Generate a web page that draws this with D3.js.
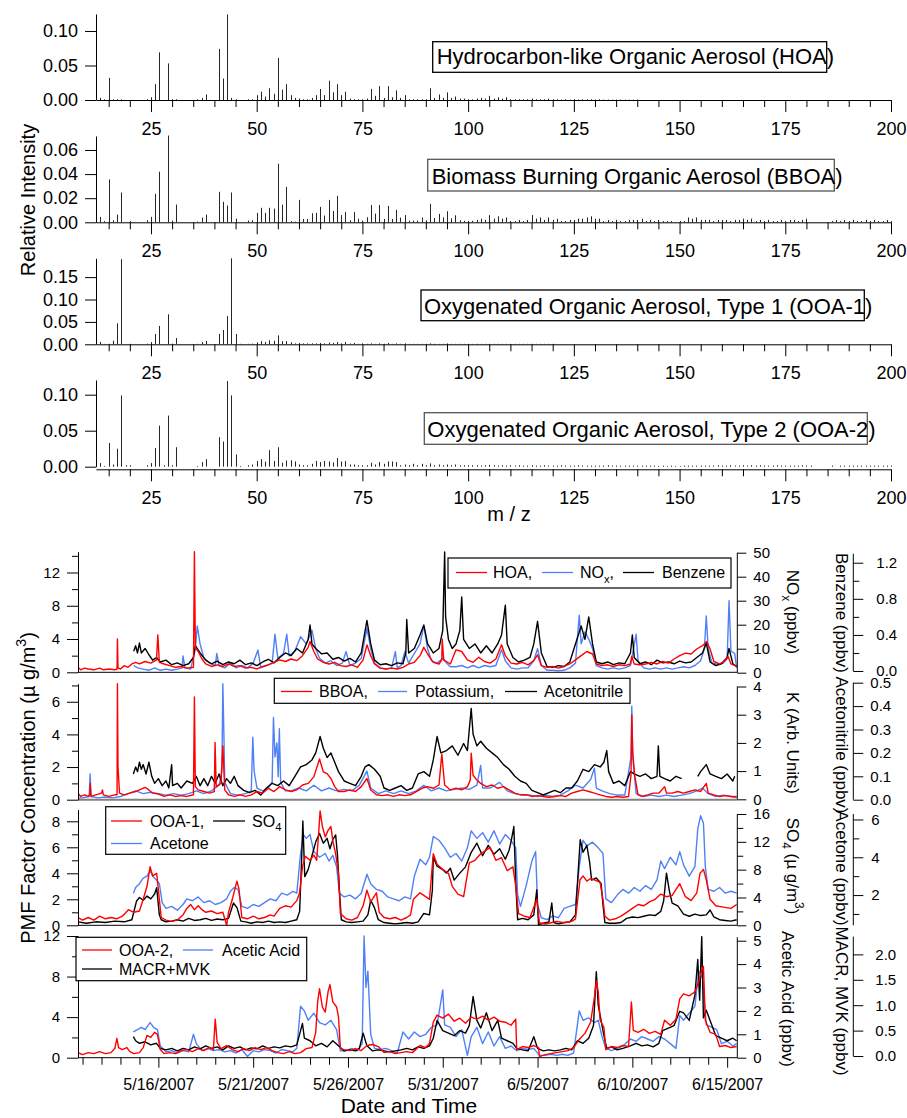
<!DOCTYPE html>
<html>
<head>
<meta charset="utf-8">
<script src="https://cdn.jsdelivr.net/npm/d3@7"></script>
<style>
  body { margin: 0; background: #fff; }
  svg { display: block; }
</style>
</head>
<body>
<svg id="chart" width="907" height="1118"></svg>
<script>
// ---------- mass spectra (relative intensity), m/z 12..100 then tails
const mzStart = 12;
const hoaSpectrum = [
  0.012,0.003,0.001,0.032,0.001,0.001,0.001,0,0,0,
  0,0,0.001,0.004,0.023,0.069,0,0.053,0.001,0.001,
  0,0,0,0,0.001,0.003,0.008,0,0,0.074,
  0.031,0.124,0.003,0.001,0,0,0.001,0.001,0.007,0.012,
  0.005,0.017,0.009,0.061,0.015,0.023,0.007,0.003,0.002,0.001,
  0.001,0.003,0.007,0.016,0.007,0.028,0.011,0.023,0.007,0.012,
  0.002,0.001,0.001,0.001,0.002,0.016,0.006,0.020,0.003,0.020,
  0.004,0.014,0.003,0.007,0.001,0.001,0.001,0.001,0.001,0.017,
  0.003,0.008,0.003,0.011,0.003,0.005,0.002,0.002,0.001];
const hoaTail = [
  0.001,0.002,0.003,0.002,0.006,0.002,0.004,0.002,0.004,0.001,
  0.001,0.001,0.001,0.001,0.002,0.001,0.001,0.001,0.002,0.001,
  0.001,0.0005,0.001,0.0005,0.001,0.0005,0.001,0.001,0.001,0.0005,
  0.001,0.0005,0.0005,0.0005,0.0005,0.0005,0.0005,0.0005,0.0005,0.0005];
const bboaSpectrum = [
  0.013,0.0045,0.001,0.0355,0.0017,0.0064,0.0247,0,0.001,0,
  0,0,0.0017,0.0045,0.0236,0.042,0,0.072,0.0014,0.0147,
  0,0,0,0,0.0005,0.0039,0.0064,0,0,0.0253,
  0.017,0.0139,0.0247,0.003,0,0,0.0014,0.0017,0.0078,0.012,
  0.0078,0.012,0.0114,0.0486,0.0147,0.0294,0.001,0.0005,0.0186,0.0028,
  0.0028,0.0075,0.0078,0.0128,0.0056,0.0186,0.0094,0.022,0.006,0.0086,
  0.0017,0.0086,0.003,0.0014,0.0042,0.0144,0.0072,0.0144,0.0028,0.0136,
  0.0028,0.0103,0.0039,0.006,0.0014,0.0014,0.0014,0.004,0.0017,0.0153,
  0.0036,0.007,0.004,0.0092,0.0033,0.0058,0.0017,0.0012,0.0012];
const bboaTail = [
  0.0012,0.002,0.003,0.002,0.006,0.003,0.005,0.003,0.004,0.001,
  0.001,0.002,0.001,0.002,0.006,0.003,0.004,0.002,0.004,0.002,
  0.003,0.001,0.001,0.002,0.002,0.003,0.003,0.004,0.005,0.003,
  0.003,0.001,0.002,0.001,0.002,0.001,0.001,0.002,0.002,0.002,
  0.003,0.001,0.002,0.001,0.002,0.001,0.001,0.001,0,0.001,
  0.001,0.004,0.003,0.004,0.002,0.002,0.002,0.001,0.002,0.002,
  0.002,0.001,0.002,0.002,0.003,0.002,0.003,0.001,0.002,0.001,
  0.002,0.001,0.001,0.002,0.001,0.002,0.002,0.001,0.002,0.003,
  0,0,0,0,0,0.001,0.002,0.001,0.002,0.001,
  0.002,0.001,0.001,0.002,0.001,0.002,0.001,0.001,0.002,0.001];
const ooa1Spectrum = [
  0.018,0.005,0.001,0.001,0.008,0.047,0.19,0,0.001,0,
  0,0,0.0015,0.005,0.023,0.041,0,0.067,0.0015,0.014,
  0,0,0,0,0.001,0.005,0.0075,0,0,0.023,
  0.032,0.063,0.192,0.023,0.001,0,0.001,0.0015,0.0045,0.007,
  0.005,0.009,0.008,0.020,0.007,0.007,0.0045,0.002,0.003,0.002,
  0.002,0.002,0.002,0.003,0.002,0.004,0.003,0.005,0.002,0.005,
  0.002,0.003,0.001,0.002,0.001,0.002,0.001,0.002,0.001,0.003,
  0.001,0.002,0.001,0.002,0.001,0.001,0.001,0.001,0.001,0.002,
  0.001,0.001,0.001,0.002,0.001,0.001,0.001,0.001,0.001];
const ooa1Tail = [
  0.001,0.001,0.001,0.001,0.001,0.001,0.001,0.001,0.001,0.001,
  0.001,0.001,0.001,0.001,0.001,0.001,0.001,0.001,0.001,0.001];
const ooa2Spectrum = [
  0.008,0.005,0.001,0.033,0.003,0.025,0.099,0.002,0.002,0,
  0,0,0.002,0.005,0.026,0.057,0.002,0.071,0.002,0.027,
  0,0,0,0,0.001,0.0064,0.0105,0,0,0.041,
  0.035,0.119,0.099,0.017,0.001,0,0.002,0.003,0.008,0.0105,
  0.007,0.023,0.008,0.027,0.0055,0.0087,0.009,0.0073,0.003,0.002,
  0.002,0.004,0.008,0.0064,0.008,0.0073,0.006,0.012,0.0073,0.008,
  0.003,0.003,0.002,0.002,0.002,0.0055,0.003,0.0064,0.004,0.0073,
  0.0073,0.0064,0.002,0.003,0.002,0.004,0.002,0.004,0.002,0.0045,
  0.002,0.003,0.002,0.003,0.002,0.003,0.002,0.002,0.002];
const ooa2Tail = [
  0.002,0.002,0.0015,0.002,0.0025,0.002,0.0015,0.002,0.0015,0.002,
  0.0015,0.002,0.0015,0.0015,0.002,0.0015,0.0015,0.002,0.0015,0.0015,
  0.0015,0.002,0.0015,0.0015,0.0015,0.002,0.0015,0.0015,0.0015,0.0015,
  0.0015,0.0015,0.002,0.0015,0.0015,0.0015,0.0015,0.0015,0.0015,0.0015,
  0.0015,0.0015,0.0015,0.0015,0.001,0.0015,0.001,0.0015,0.001,0.001,
  0.0015,0.0015,0.0015,0.0015,0.0015,0.0015,0.0015,0.0015,0.002,0.0015,
  0.0015,0.002,0.0015,0.0015,0.002,0.0015,0.002,0.0015,0.002,0.0015,
  0.0015,0.0015,0.002,0.0015,0.0015,0.0015,0.0015,0.0015,0.002,0.0015,
  0.0015,0,0,0,0,0.0015,0,0.0015,0.0015,0.0015,
  0.0015,0.0015,0.0015,0.0015,0.0015,0.0015,0.0015,0.0015,0.0015,0.0015];

const mzMajorTicks = [25, 50, 75, 100, 125, 150, 175, 200];
const mzMinorTicks = [15, 20, 30, 35, 40, 45, 55, 60, 65, 70, 80, 85, 90, 95, 105, 110, 115, 120,
  130, 135, 140, 145, 155, 160, 165, 170, 180, 185, 190, 195];

// ---------- time series, [day of May 2007 (June 1 = 32), value]
const hoaConc = [[11.76,0.6],[11.9,0.3],[12.1,0.5],[12.3,0.4],[12.6,0.3],[12.9,0.5],[13.1,0.3],[13.4,0.4],[13.7,0.3],[13.82,0.4],[13.84,4.0],[13.87,0.5],[14.0,0.4],[14.2,0.8],[14.4,0.6],[14.6,1.0],[14.8,1.2],[15.0,1.0],[15.3,1.3],[15.6,1.1],[15.9,1.5],[15.97,4.5],[16.05,1.2],[16.3,1.0],[16.6,0.8],[16.9,0.6],[17.2,0.7],[17.5,0.5],[17.85,0.6],[17.9,14.5],[17.95,3.0],[18.1,2.5],[18.3,1.6],[18.5,1.0],[18.8,0.7],[19.1,0.9],[19.4,0.7],[19.7,1.0],[20.0,0.7],[20.3,0.8],[20.6,0.5],[20.9,0.6],[21.2,0.4],[21.5,0.7],[21.8,0.9],[22.1,1.2],[22.4,1.5],[22.7,1.3],[23.0,1.6],[23.3,1.4],[23.6,2.0],[23.9,3.0],[24.0,3.7],[24.2,2.5],[24.4,1.6],[24.7,1.2],[25.0,1.0],[25.3,1.2],[25.6,0.8],[25.9,0.7],[26.2,0.9],[26.5,0.6],[26.8,1.5],[27.0,3.3],[27.2,2.0],[27.4,1.0],[27.7,0.5],[28.0,0.4],[28.3,0.5],[28.6,0.4],[28.9,0.6],[29.2,1.0],[29.5,1.2],[29.8,2.0],[30.0,3.0],[30.2,2.2],[30.5,1.2],[30.8,1.0],[30.95,1.5],[30.97,4.0],[31.05,1.5],[31.4,1.0],[31.7,2.7],[32.0,2.5],[32.3,1.5],[32.6,1.2],[32.9,1.8],[33.2,1.3],[33.5,1.1],[33.8,1.6],[34.1,3.3],[34.3,2.0],[34.6,1.1],[34.9,1.0],[35.2,1.2],[35.5,0.9],[35.8,1.4],[36.0,2.1],[36.2,0.8],[36.5,0.6],[36.8,0.7],[37.1,0.5],[37.4,0.7],[37.7,1.0],[38.0,1.5],[38.3,2.0],[38.6,2.5],[38.9,2.2],[39.1,1.0],[39.4,0.8],[39.7,0.9],[40.0,0.7],[40.3,0.9],[40.6,0.8],[40.9,1.0],[40.97,1.9],[41.1,1.0],[41.4,0.9],[41.7,1.0],[42.0,1.2],[42.3,1.0],[42.6,1.3],[42.9,1.1],[43.2,1.6],[43.5,2.0],[43.8,2.3],[44.1,2.2],[44.4,2.8],[44.7,3.2],[44.92,3.7],[45.1,2.8],[45.3,1.3],[45.6,1.0],[45.9,1.4],[46.05,1.9],[46.2,1.0],[46.5,0.7]];
const noxPpbv = [[14.7,3],[14.9,2],[15.2,1.5],[15.5,1],[15.8,2],[16.1,1],[16.4,1.5],[16.7,1],[17.0,1.5],[17.25,2],[17.3,7],[17.4,2],[17.7,1.5],[17.95,10],[18.05,19.5],[18.2,12],[18.4,6],[18.7,4],[19.0,3],[19.08,8],[19.2,3],[19.5,2],[19.8,4],[20.1,2],[20.4,3],[20.7,2],[21.0,4],[21.25,9.5],[21.4,2],[21.7,3],[22.0,4],[22.15,16],[22.3,6],[22.6,8],[22.77,16],[22.9,7],[23.2,9],[23.5,15],[23.8,12],[24.1,17.7],[24.3,10],[24.5,6],[24.8,4],[25.1,5],[25.4,3],[25.7,4],[25.9,8.8],[26.1,3],[26.4,4],[26.7,6],[27.0,18.5],[27.2,10],[27.4,4],[27.7,2],[28.0,1.5],[28.3,2],[28.5,8.8],[28.6,2],[28.8,3],[29.0,8.8],[29.2,4],[29.5,8],[29.8,12],[30.0,19.5],[30.2,10],[30.4,5],[30.7,4],[31.0,6],[31.2,4],[31.4,2.5],[31.7,2.5],[32.0,3],[32.3,2],[32.6,3],[32.9,2],[33.2,3],[33.5,2.5],[33.8,3],[34.1,9.6],[34.3,5],[34.6,2],[34.9,1.5],[35.2,2],[35.5,2],[35.8,5],[36.0,10],[36.2,3],[36.5,1],[36.8,1],[37.1,0.8],[37.4,1],[37.7,2],[38.0,4],[38.2,24],[38.3,12],[38.5,17],[38.7,14],[38.9,10],[39.1,3],[39.4,2],[39.7,1.5],[40.0,2],[40.3,1.5],[40.6,2],[40.9,3],[41.2,16],[41.3,5],[41.6,2],[41.9,1.5],[42.2,2],[42.5,1.5],[42.8,2],[43.1,1.5],[43.4,2],[43.7,2.5],[44.0,2],[44.3,3],[44.6,5],[44.8,10],[44.9,23.6],[45.0,10],[45.2,4],[45.5,3.5],[45.8,4],[46.0,6],[46.1,30],[46.2,9],[46.4,8],[46.5,2]];
const benzenePpbv = [[14.7,0.22],[14.8,0.28],[14.9,0.2],[15.0,0.31],[15.1,0.2],[15.3,0.25],[15.5,0.18],[15.7,0.12],[15.9,0.15],[16.1,0.1],[16.4,0.12],[16.7,0.07],[17.0,0.09],[17.3,0.06],[17.6,0.08],[17.85,0.15],[17.95,0.28],[18.2,0.2],[18.5,0.12],[18.8,0.08],[19.1,0.11],[19.4,0.07],[19.7,0.1],[20.0,0.08],[20.3,0.12],[20.6,0.07],[20.9,0.09],[21.2,0.06],[21.5,0.1],[21.8,0.13],[22.1,0.09],[22.4,0.15],[22.7,0.2],[23.0,0.17],[23.3,0.25],[23.6,0.2],[23.9,0.35],[24.0,0.51],[24.1,0.3],[24.3,0.25],[24.6,0.19],[24.9,0.2],[25.2,0.13],[25.5,0.15],[25.8,0.11],[26.1,0.14],[26.4,0.1],[26.7,0.2],[27.0,0.56],[27.2,0.3],[27.4,0.12],[27.7,0.07],[28.0,0.08],[28.3,0.06],[28.6,0.09],[28.9,0.08],[29.05,0.2],[29.1,0.57],[29.2,0.2],[29.5,0.25],[29.8,0.4],[30.0,0.51],[30.2,0.3],[30.5,0.2],[30.8,0.25],[31.0,0.45],[31.1,1.32],[31.15,0.6],[31.3,0.35],[31.5,0.25],[31.7,0.3],[31.9,0.45],[32.0,0.82],[32.1,0.35],[32.4,0.25],[32.7,0.3],[33.0,0.2],[33.3,0.28],[33.6,0.2],[33.9,0.3],[34.1,0.4],[34.3,0.73],[34.4,0.3],[34.7,0.15],[35.0,0.1],[35.3,0.12],[35.6,0.15],[35.8,0.3],[36.0,0.55],[36.2,0.2],[36.5,0.05],[36.8,0.04],[37.1,0.06],[37.4,0.05],[37.7,0.1],[38.0,0.3],[38.3,0.5],[38.5,0.35],[38.7,0.6],[38.9,0.3],[39.1,0.1],[39.4,0.08],[39.7,0.1],[40.0,0.07],[40.3,0.09],[40.6,0.08],[40.9,0.2],[41.0,0.4],[41.1,0.15],[41.4,0.08],[41.7,0.1],[42.0,0.07],[42.3,0.12],[42.6,0.09],[42.9,0.1],[43.2,0.08],[43.5,0.11],[43.8,0.09],[44.1,0.1],[44.4,0.15],[44.7,0.2],[44.9,0.31],[45.1,0.1],[45.4,0.06],[45.7,0.08],[46.0,0.15],[46.1,0.25],[46.3,0.08],[46.5,0.05]];
const bboaConc = [[11.76,0.4],[11.9,0.2],[12.1,0.3],[12.3,0.2],[12.38,0.3],[12.4,1.0],[12.45,0.2],[12.7,0.3],[13.0,0.4],[13.05,0.6],[13.1,0.3],[13.4,0.2],[13.7,0.3],[13.82,0.3],[13.84,7.1],[13.87,2.0],[13.95,0.4],[14.2,0.3],[14.5,0.4],[14.8,0.5],[15.0,0.6],[15.3,0.76],[15.5,0.6],[15.7,0.4],[16.0,0.35],[16.3,0.2],[16.6,0.3],[16.9,0.2],[17.2,0.25],[17.5,0.2],[17.85,0.3],[17.9,6.3],[17.95,0.8],[18.1,0.6],[18.4,0.5],[18.7,0.4],[18.95,0.5],[18.99,3.5],[19.05,0.8],[19.3,1.0],[19.4,3.3],[19.5,0.6],[19.7,0.3],[20.0,0.2],[20.3,0.3],[20.6,0.2],[20.9,0.3],[21.2,0.5],[21.5,0.4],[21.8,0.7],[22.1,0.5],[22.4,0.8],[22.7,0.6],[23.0,0.5],[23.3,0.6],[23.6,0.9],[23.9,1.0],[24.2,1.4],[24.5,2.5],[24.7,1.7],[24.9,1.6],[25.1,1.3],[25.3,0.8],[25.5,0.5],[25.8,0.5],[26.1,0.6],[26.4,0.5],[26.7,0.8],[27.0,1.3],[27.2,0.6],[27.5,0.3],[27.8,0.25],[28.1,0.3],[28.4,0.2],[28.7,0.3],[29.0,0.25],[29.3,0.3],[29.6,0.5],[29.9,0.7],[30.2,0.8],[30.5,0.7],[30.8,0.9],[30.95,2.8],[31.1,0.9],[31.4,0.6],[31.7,0.7],[32.0,0.6],[32.3,0.8],[32.45,1.2],[32.5,2.85],[32.6,1.5],[32.8,1.2],[33.0,1.0],[33.3,0.8],[33.6,0.9],[33.9,0.7],[34.2,0.8],[34.5,0.6],[34.8,0.4],[35.1,0.3],[35.4,0.3],[35.7,0.2],[36.0,0.25],[36.3,0.2],[36.6,0.15],[36.9,0.2],[37.2,0.25],[37.5,0.2],[37.8,0.4],[38.1,0.5],[38.4,0.6],[38.7,0.5],[39.0,0.4],[39.3,0.3],[39.6,0.2],[39.9,0.15],[40.2,0.2],[40.5,0.15],[40.8,0.2],[40.93,1.5],[40.97,5.2],[41.02,2.9],[41.12,1.5],[41.3,0.3],[41.5,0.2],[41.8,0.3],[42.1,0.4],[42.4,0.4],[42.7,0.8],[42.8,0.4],[43.1,0.4],[43.4,0.5],[43.7,0.4],[44.0,0.5],[44.3,0.6],[44.6,0.5],[44.9,1.0],[45.0,0.4],[45.3,0.3],[45.6,0.2],[45.9,0.25],[46.2,0.2],[46.5,0.15]];
const potassium = [[11.76,0.05],[12.0,0.05],[12.35,0.1],[12.4,0.9],[12.45,0.1],[12.8,0.05],[13.2,0.08],[13.6,0.05],[14.0,0.1],[14.4,0.2],[14.8,0.3],[15.2,0.2],[15.6,0.25],[16.0,0.2],[16.4,0.15],[16.8,0.2],[17.2,0.15],[17.6,0.2],[18.0,0.3],[18.4,0.2],[18.8,0.3],[19.2,0.5],[19.35,1.0],[19.4,4.1],[19.45,2.5],[19.5,0.6],[19.8,0.2],[20.2,0.15],[20.6,0.2],[20.9,0.3],[20.98,2.2],[21.05,1.0],[21.2,0.4],[21.5,0.3],[21.8,0.4],[22.0,0.6],[22.07,2.9],[22.15,1.5],[22.25,2.0],[22.32,0.8],[22.38,2.5],[22.45,0.6],[22.7,0.3],[23.0,0.3],[23.4,0.4],[23.8,0.3],[24.2,0.5],[24.6,0.3],[25.0,0.4],[25.4,0.3],[25.8,0.35],[26.2,0.3],[26.6,0.5],[27.0,1.0],[27.2,0.4],[27.6,0.2],[28.0,0.3],[28.4,0.2],[28.8,0.3],[29.2,0.2],[29.6,0.3],[30.0,0.5],[30.4,0.3],[30.8,0.4],[31.2,0.3],[31.6,0.35],[32.0,0.4],[32.4,0.35],[32.8,0.5],[33.0,1.2],[33.1,0.4],[33.5,0.4],[34.0,0.6],[34.4,0.3],[34.8,0.2],[35.2,0.15],[35.6,0.15],[36.0,0.1],[36.4,0.15],[36.8,0.1],[37.2,0.15],[37.6,0.3],[38.0,0.5],[38.4,0.4],[38.8,0.7],[39.0,1.1],[39.1,0.4],[39.4,0.3],[39.8,0.2],[40.2,0.15],[40.6,0.15],[40.93,1.5],[40.97,3.3],[41.02,1.5],[41.2,0.2],[41.6,0.1],[42.0,0.15],[42.4,0.1],[42.8,0.15],[43.2,0.1],[43.6,0.15],[44.0,0.2],[44.4,0.3],[44.7,0.4],[45.0,0.2],[45.4,0.1],[45.8,0.15],[46.2,0.1],[46.5,0.1]];
const acetonitrilePpbv = [[14.68,0.11],[14.8,0.14],[14.9,0.12],[15.0,0.16],[15.1,0.13],[15.2,0.15],[15.35,0.11],[15.5,0.16],[15.65,0.1],[15.8,0.07],[16.0,0.09],[16.2,0.06],[16.4,0.08],[16.55,0.05],[16.7,0.15],[16.75,0.06],[17.0,0.07],[17.2,0.05],[17.5,0.08],[17.8,0.07],[18.0,0.1],[18.2,0.06],[18.4,0.09],[18.6,0.06],[18.8,0.1],[19.0,0.07],[19.2,0.11],[19.4,0.06],[19.6,0.09],[19.8,0.07],[20.0,0.1],[20.2,0.06],[20.5,0.04],[20.8,0.03],[21.1,0.04],[21.4,0.02],[21.7,0.05],[22.0,0.07],[22.3,0.06],[22.6,0.08],[22.9,0.06],[23.2,0.1],[23.5,0.14],[23.8,0.15],[24.1,0.17],[24.3,0.2],[24.53,0.27],[24.7,0.22],[24.9,0.18],[25.1,0.2],[25.3,0.16],[25.5,0.12],[25.8,0.08],[26.1,0.07],[26.4,0.06],[26.7,0.1],[26.9,0.14],[27.1,0.15],[27.4,0.13],[27.7,0.1],[27.9,0.05],[28.2,0.04],[28.5,0.05],[28.8,0.06],[29.1,0.04],[29.4,0.05],[29.7,0.11],[30.0,0.12],[30.3,0.1],[30.5,0.17],[30.7,0.27],[30.9,0.2],[31.2,0.21],[31.5,0.23],[31.8,0.19],[32.1,0.24],[32.3,0.21],[32.5,0.39],[32.6,0.28],[32.8,0.23],[33.0,0.25],[33.3,0.22],[33.6,0.2],[33.9,0.18],[34.2,0.15],[34.5,0.13],[34.8,0.1],[35.1,0.08],[35.4,0.07],[35.7,0.04],[36.0,0.03],[36.3,0.02],[36.6,0.03],[36.9,0.04],[37.2,0.03],[37.5,0.05],[37.8,0.05],[38.1,0.08],[38.4,0.13],[38.7,0.12],[39.0,0.15],[39.3,0.14],[39.5,0.16],[39.65,0.21],[39.75,0.12],[40.0,0.07],[40.3,0.08],[40.6,0.06],[40.9,0.12],[41.1,0.11],[41.4,0.1],[41.7,0.11],[42.0,0.09],[42.3,0.1],[42.37,0.23],[42.45,0.1],[42.7,0.09],[43.0,0.08],[43.3,0.1],[43.6,0.09],[43.7,null],[44.45,0.1],[44.6,0.12],[44.9,0.15],[45.1,0.11],[45.4,0.1],[45.7,0.09],[46.0,0.11],[46.3,0.08],[46.4,0.1]];
const ooa1Conc = [[11.76,0.6],[12.0,0.4],[12.3,0.6],[12.6,0.4],[12.9,0.7],[13.2,0.5],[13.5,0.6],[13.8,0.5],[14.1,0.7],[14.42,1.2],[14.7,1.0],[15.0,1.1],[15.2,2.0],[15.4,3.0],[15.56,4.5],[15.7,3.8],[15.91,4.0],[16.05,2.0],[16.15,0.6],[16.4,0.4],[16.7,0.3],[17.0,0.4],[17.3,0.8],[17.5,1.3],[17.7,1.6],[17.9,1.2],[18.1,1.5],[18.3,1.2],[18.5,1.0],[18.8,1.1],[19.1,0.9],[19.4,1.0],[19.6,0.0],[19.7,1.0],[19.9,2.0],[20.14,3.4],[20.25,2.8],[20.4,0.6],[20.7,0.5],[21.0,0.7],[21.3,0.5],[21.6,0.6],[21.9,0.8],[22.1,0.7],[22.4,1.3],[22.7,1.5],[23.0,1.4],[23.3,1.9],[23.45,2.5],[23.6,4.5],[23.75,5.3],[24.0,5.0],[24.2,5.4],[24.35,5.0],[24.45,7.0],[24.53,8.8],[24.65,7.6],[24.8,6.8],[24.95,7.3],[25.1,7.6],[25.2,6.5],[25.35,5.5],[25.5,4.0],[25.6,0.9],[25.9,0.5],[26.2,0.4],[26.5,0.6],[26.8,1.5],[27.0,2.7],[27.2,1.8],[27.5,2.5],[27.65,1.0],[27.9,0.6],[28.2,0.5],[28.5,0.6],[28.8,0.4],[29.1,0.6],[29.3,0.8],[29.45,2.0],[29.8,2.5],[30.1,2.2],[30.3,2.0],[30.5,5.5],[30.7,4.7],[31.0,4.3],[31.3,4.0],[31.5,3.0],[31.8,2.4],[32.1,2.2],[32.4,4.8],[32.7,5.0],[33.0,5.5],[33.5,6.0],[33.8,5.0],[34.1,5.2],[34.4,4.2],[34.7,4.5],[34.85,3.0],[35.0,0.9],[35.3,0.7],[35.6,0.6],[35.96,2.0],[36.1,0.2],[36.4,0.1],[36.7,0.2],[37.0,0.3],[37.4,0.2],[37.8,0.3],[38.0,0.5],[38.24,3.5],[38.4,3.8],[38.6,3.4],[38.8,3.6],[39.0,3.5],[39.3,3.3],[39.45,2.0],[39.55,0.7],[39.8,0.4],[40.1,0.5],[40.4,0.7],[40.7,1.0],[41.0,1.3],[41.3,1.6],[41.6,1.5],[41.9,1.8],[42.2,2.0],[42.5,2.4],[42.8,2.2],[43.1,2.3],[43.5,3.2],[43.8,2.2],[44.1,1.9],[44.4,2.5],[44.57,4.0],[44.75,4.3],[44.9,3.5],[45.1,2.0],[45.4,1.5],[45.8,1.4],[46.2,1.3],[46.5,1.6]];
const so4Conc = [[11.76,0.5],[12.2,0.3],[12.7,0.5],[13.2,0.4],[13.7,0.6],[14.2,0.5],[14.6,0.8],[14.85,3.5],[15.0,4.0],[15.2,3.6],[15.4,4.2],[15.6,3.8],[15.8,4.5],[15.91,5.4],[16.05,1.5],[16.15,0.8],[16.4,0.5],[16.7,0.6],[17.0,0.8],[17.3,0.6],[17.6,1.0],[17.9,0.7],[18.2,0.8],[18.5,1.0],[18.8,0.7],[19.1,0.9],[19.4,0.8],[19.7,1.0],[19.96,3.2],[20.15,2.5],[20.35,0.6],[20.6,0.5],[20.9,0.3],[21.2,0.5],[21.5,0.4],[21.8,0.6],[22.1,0.4],[22.4,0.5],[22.7,0.4],[23.0,0.6],[23.3,0.8],[23.45,2.0],[23.55,9.0],[23.62,15.0],[23.72,7.0],[23.9,8.0],[24.1,10.0],[24.3,12.0],[24.5,13.2],[24.7,11.8],[24.9,12.5],[25.05,11.0],[25.2,12.3],[25.35,13.0],[25.45,10.0],[25.55,5.0],[25.65,0.8],[25.9,0.5],[26.2,0.4],[26.5,0.5],[26.8,0.6],[27.05,1.5],[27.2,3.6],[27.4,2.5],[27.6,0.8],[27.9,0.4],[28.2,0.3],[28.5,0.2],[28.8,0.3],[29.1,0.4],[29.4,0.3],[29.7,0.5],[30.0,1.7],[30.3,1.5],[30.45,5.0],[30.5,9.8],[30.7,8.5],[31.0,8.0],[31.2,7.5],[31.4,8.2],[31.6,6.5],[31.9,7.5],[32.2,8.4],[32.5,10.5],[32.8,11.8],[33.1,10.0],[33.4,11.5],[33.7,10.2],[34.0,11.0],[34.3,9.5],[34.5,10.8],[34.6,12.0],[34.75,14.2],[34.85,6.0],[34.95,0.8],[35.2,1.0],[35.5,0.8],[35.8,1.5],[35.96,5.1],[36.05,0.1],[36.3,0.3],[36.6,0.5],[36.75,3.2],[36.85,0.4],[37.1,0.2],[37.4,0.4],[37.7,0.5],[38.0,1.5],[38.15,8.0],[38.25,12.3],[38.4,10.5],[38.6,11.5],[38.75,9.0],[38.85,6.5],[39.1,6.8],[39.35,6.0],[39.45,3.0],[39.55,0.4],[39.8,0.3],[40.1,0.3],[40.4,0.4],[40.7,1.0],[41.0,1.2],[41.3,1.1],[41.6,1.3],[41.9,1.5],[42.2,1.4],[42.5,2.0],[42.65,3.5],[42.8,7.5],[42.95,5.0],[43.1,3.2],[43.4,2.8],[43.7,1.6],[44.0,1.3],[44.3,1.6],[44.6,1.4],[44.9,1.5],[45.1,2.2],[45.3,1.2],[45.6,0.8],[45.9,0.7],[46.2,0.6],[46.5,0.8]];
const acetonePpbv = [[14.68,2.1],[14.8,2.4],[15.0,2.6],[15.2,2.9],[15.4,3.0],[15.56,3.3],[15.7,3.0],[15.9,2.8],[16.05,2.6],[16.2,1.6],[16.4,1.3],[16.7,1.4],[17.0,1.2],[17.3,1.5],[17.5,1.8],[17.8,1.7],[18.1,1.9],[18.4,1.6],[18.7,1.7],[19.0,1.5],[19.3,1.6],[19.6,1.8],[19.8,2.2],[20.0,2.4],[20.2,2.3],[20.4,1.4],[20.7,1.3],[21.0,1.5],[21.3,1.4],[21.6,1.6],[21.9,1.8],[22.2,1.7],[22.5,2.1],[22.8,2.0],[23.1,2.2],[23.3,2.1],[23.5,4.2],[23.65,5.2],[23.8,5.0],[24.0,5.2],[24.2,4.3],[24.5,4.0],[24.8,4.2],[25.0,3.8],[25.2,4.1],[25.4,3.5],[25.55,2.1],[25.8,1.9],[26.1,2.0],[26.4,1.8],[26.7,2.1],[27.0,3.1],[27.2,2.6],[27.5,2.3],[27.8,2.2],[28.1,1.9],[28.4,1.8],[28.7,1.7],[29.0,1.9],[29.3,1.8],[29.5,3.0],[29.8,3.9],[30.1,3.6],[30.3,4.0],[30.5,5.1],[30.8,4.9],[31.1,4.5],[31.4,4.0],[31.7,4.2],[32.0,3.8],[32.3,4.5],[32.5,5.4],[32.8,5.0],[33.1,5.3],[33.4,4.8],[33.7,5.4],[34.0,4.7],[34.3,5.2],[34.6,4.9],[34.85,4.5],[34.95,2.0],[35.1,1.4],[35.4,2.5],[35.7,3.8],[35.9,4.3],[36.0,1.5],[36.2,0.8],[36.5,0.7],[36.8,0.9],[37.1,0.8],[37.4,1.3],[37.7,1.4],[38.0,1.5],[38.2,3.5],[38.4,4.9],[38.6,4.6],[38.9,4.8],[39.2,4.5],[39.45,4.2],[39.6,1.8],[39.9,1.6],[40.2,2.0],[40.5,2.3],[40.8,2.1],[41.1,2.4],[41.4,2.2],[41.7,2.5],[42.0,2.3],[42.3,2.8],[42.5,3.8],[42.7,3.4],[43.0,4.0],[43.3,3.6],[43.5,4.3],[43.7,3.6],[44.0,3.0],[44.3,3.5],[44.45,5.5],[44.6,6.2],[44.75,5.8],[44.85,3.5],[45.0,2.3],[45.3,2.2],[45.6,2.4],[45.9,2.1],[46.2,2.2],[46.5,2.1]];
const ooa2Conc = [[11.76,0.5],[12.0,0.3],[12.3,0.5],[12.6,0.4],[12.9,0.6],[13.2,0.4],[13.5,0.5],[13.7,0.9],[13.81,1.9],[13.9,1.0],[14.1,0.8],[14.33,1.0],[14.5,0.6],[14.7,0.4],[15.0,0.5],[15.2,1.0],[15.4,2.2],[15.6,2.0],[15.8,2.5],[15.95,2.3],[16.1,0.8],[16.3,0.4],[16.6,0.5],[16.9,0.4],[17.2,0.7],[17.5,0.8],[17.8,0.6],[18.1,0.9],[18.4,0.7],[18.7,1.0],[18.9,0.8],[19.0,3.8],[19.1,1.5],[19.3,0.9],[19.6,1.2],[19.9,0.8],[20.2,0.6],[20.5,0.9],[20.8,0.7],[21.1,1.0],[21.4,0.8],[21.7,1.0],[22.0,0.7],[22.3,0.5],[22.6,0.4],[22.9,0.6],[23.2,0.4],[23.5,0.5],[23.8,0.9],[24.1,1.0],[24.3,2.5],[24.4,5.5],[24.5,6.8],[24.65,5.0],[24.8,4.5],[24.95,6.5],[25.05,7.2],[25.2,5.5],[25.4,5.0],[25.5,4.0],[25.6,0.9],[25.8,0.8],[26.1,0.7],[26.4,0.9],[26.7,0.7],[27.0,1.2],[27.3,1.3],[27.6,1.1],[27.9,0.5],[28.2,0.6],[28.5,0.4],[28.8,0.5],[29.1,0.6],[29.4,0.5],[29.8,1.2],[30.1,1.0],[30.3,1.4],[30.5,3.5],[30.7,4.2],[31.0,3.9],[31.3,4.3],[31.6,3.6],[31.9,3.9],[32.2,3.4],[32.5,4.0],[32.8,3.8],[33.1,4.1],[33.4,3.7],[33.7,4.0],[34.0,3.6],[34.3,3.5],[34.6,3.2],[34.85,3.8],[34.9,0.8],[35.2,1.1],[35.5,1.0],[35.8,1.2],[36.05,1.0],[36.1,0.1],[36.4,0.3],[36.7,0.4],[37.0,0.5],[37.3,0.6],[37.6,0.7],[37.9,1.0],[38.2,1.8],[38.5,2.4],[38.8,3.5],[39.0,6.0],[39.1,7.6],[39.2,6.5],[39.3,3.7],[39.5,3.0],[39.6,0.8],[39.9,1.1],[40.2,1.0],[40.5,1.2],[40.8,1.1],[40.95,5.5],[41.05,2.7],[41.3,2.5],[41.6,2.8],[41.9,2.4],[42.2,2.6],[42.5,2.3],[42.7,3.7],[43.0,3.2],[43.3,3.8],[43.5,5.8],[43.7,6.3],[44.0,6.1],[44.3,6.5],[44.5,7.5],[44.65,8.6],[44.75,9.0],[44.85,3.7],[45.1,2.5],[45.4,2.3],[45.6,1.1],[45.9,1.2],[46.2,1.0],[46.5,1.1]];
const aceticAcidPpbv = [[14.68,1.1],[14.9,1.2],[15.1,1.3],[15.3,1.2],[15.56,1.5],[15.75,1.3],[15.95,1.2],[16.1,0.5],[16.4,0.25],[16.7,0.3],[17.0,0.2],[17.3,0.3],[17.6,0.25],[17.85,1.0],[18.0,0.6],[18.3,0.3],[18.6,0.4],[18.9,0.3],[19.2,0.35],[19.5,0.25],[19.8,0.3],[20.1,0.2],[20.4,0.35],[20.7,0.05],[21.0,0.3],[21.3,0.25],[21.6,0.35],[21.9,0.3],[22.2,0.2],[22.5,0.35],[22.8,0.3],[23.1,0.25],[23.3,0.4],[23.5,2.2],[23.7,2.0],[23.9,1.6],[24.2,1.9],[24.5,1.5],[24.8,1.4],[25.1,1.6],[25.4,1.2],[25.6,0.3],[25.9,0.3],[26.2,0.4],[26.5,0.3],[26.75,0.6],[26.85,5.2],[26.95,3.0],[27.05,3.7],[27.2,1.0],[27.4,0.4],[27.7,0.35],[28.0,0.4],[28.3,0.3],[28.6,0.2],[28.9,1.1],[29.2,0.8],[29.5,1.1],[29.8,0.9],[30.1,1.0],[30.4,1.3],[30.7,1.4],[31.0,2.9],[31.1,1.4],[31.4,1.3],[31.7,0.9],[32.0,1.2],[32.3,0.1],[32.5,0.9],[32.8,1.3],[33.1,0.6],[33.4,1.1],[33.7,0.5],[34.0,0.9],[34.3,0.4],[34.6,0.5],[34.9,0.3],[35.2,0.4],[35.5,0.35],[35.8,0.4],[36.1,0.1],[36.4,0.1],[36.7,0.15],[37.0,0.1],[37.3,0.15],[37.6,0.1],[37.9,0.2],[38.2,2.0],[38.4,1.6],[38.7,1.7],[39.0,1.5],[39.2,1.6],[39.4,0.9],[39.6,0.4],[39.9,0.3],[40.2,0.4],[40.5,0.5],[40.9,0.8],[41.2,0.7],[41.5,0.9],[41.8,0.8],[42.1,0.7],[42.4,0.9],[42.7,0.8],[43.0,0.6],[43.3,0.4],[43.5,1.8],[43.7,1.6],[44.0,1.9],[44.3,2.2],[44.5,3.7],[44.7,3.4],[44.9,1.4],[45.2,1.3],[45.45,1.2],[45.7,0.6],[46.0,0.7],[46.3,0.5],[46.5,0.6]];
const macrMvkPpbv = [[14.68,0.38],[14.8,0.3],[15.0,0.25],[15.3,0.28],[15.6,0.22],[15.9,0.25],[16.1,0.15],[16.4,0.12],[16.7,0.15],[17.0,0.1],[17.3,0.15],[17.6,0.12],[17.9,0.18],[18.2,0.14],[18.5,0.2],[18.8,0.15],[19.1,0.18],[19.4,0.12],[19.7,0.2],[20.0,0.15],[20.3,0.18],[20.6,0.12],[20.9,0.16],[21.2,0.14],[21.5,0.2],[21.8,0.15],[22.1,0.18],[22.4,0.16],[22.7,0.2],[23.0,0.18],[23.3,0.22],[23.5,0.5],[23.6,0.64],[23.7,0.35],[24.0,0.3],[24.3,0.2],[24.6,0.25],[24.9,0.18],[25.2,0.3],[25.5,0.2],[25.8,0.1],[26.1,0.12],[26.4,0.1],[26.6,0.15],[26.8,0.45],[27.0,0.2],[27.3,0.1],[27.6,0.12],[27.9,0.1],[28.2,0.08],[28.5,0.1],[28.8,0.12],[29.1,0.15],[29.4,0.12],[29.7,0.18],[30.0,0.15],[30.3,0.2],[30.5,0.35],[30.7,0.7],[31.0,0.5],[31.3,0.45],[31.6,0.4],[31.9,0.5],[32.2,0.45],[32.4,0.6],[32.6,1.17],[32.8,0.7],[33.0,0.55],[33.3,0.85],[33.6,0.5],[33.9,0.7],[34.1,0.35],[34.4,0.3],[34.7,0.25],[34.9,0.15],[35.2,0.12],[35.5,0.1],[35.8,0.38],[36.0,0.15],[36.3,0.1],[36.6,0.12],[36.9,0.1],[37.2,0.12],[37.5,0.15],[37.8,0.12],[38.1,0.3],[38.4,0.25],[38.7,0.35],[38.95,0.6],[39.1,1.66],[39.2,1.0],[39.35,0.7],[39.5,0.4],[39.65,0.15],[39.9,0.18],[40.2,0.12],[40.5,0.15],[40.9,0.2],[41.2,0.25],[41.5,0.2],[41.8,0.22],[42.1,0.18],[42.4,0.25],[42.6,0.5],[42.9,0.55],[43.2,0.6],[43.5,0.88],[43.7,0.85],[44.0,0.7],[44.3,1.2],[44.45,1.9],[44.55,1.1],[44.66,2.35],[44.75,0.75],[44.9,0.9],[45.1,0.7],[45.4,0.4],[45.7,0.35],[46.0,0.3],[46.3,0.35],[46.5,0.3]];

const dateMajorTicks = ["2007-05-16", "2007-05-21", "2007-05-26", "2007-05-31", "2007-06-05", "2007-06-10", "2007-06-15"];

// ---------- drawing
const FONT = "'Liberation Sans', Arial, Helvetica, sans-serif";
const RED = "#ff0000", BLUE = "#4f80f7", BLACK = "#000";
const svg = d3.select("#chart").attr("font-family", FONT);
svg.append("rect").attr("width", 907).attr("height", 1118).attr("fill", "#fff");

function styleAxis(g, size) {
  g.attr("font-family", FONT).attr("font-size", size);
  g.selectAll("line,path").attr("stroke", "#000");
  g.selectAll("text").attr("fill", "#000");
}

function addParts(text, parts, size) {
  let shift = 0;
  parts.forEach(([s, kind]) => {
    const target = kind === "sub" ? 0.3 * size : kind === "sup" ? -0.45 * size : 0;
    const t = text.append("tspan").text(s).attr("dy", target - shift);
    if (kind) t.attr("font-size", size * 0.7);
    shift = target;
  });
}

// mass spectra
const mzX = d3.scaleLinear().domain([12, 200]).range([96, 891]);
const specPanels = [
  {values: hoaSpectrum.concat(hoaTail), label: "Hydrocarbon-like Organic Aerosol (HOA)",
   y0: 100, yTop: 14, yMax: 0.1246, ticks: [0, 0.05, 0.1], axisY: 100,
   box: [432.7, 41.7, 394, 30.6], boxColor: "#000", textAt: [436.7, 63.5]},
  {values: bboaSpectrum.concat(bboaTail), label: "Biomass Burning Organic Aerosol (BBOA)",
   y0: 222.3, yTop: 136, yMax: 0.0716, ticks: [0, 0.02, 0.04, 0.06], axisY: 222.3,
   box: [427.7, 159.3, 406.6, 31.7], boxColor: "#555", textAt: [431.7, 183.5]},
  {values: ooa1Spectrum.concat(ooa1Tail), label: "Oxygenated Organic Aerosol, Type 1 (OOA-1)",
   y0: 344.3, yTop: 258.3, yMax: 0.192, ticks: [0, 0.05, 0.1, 0.15], axisY: 344.3,
   box: [421, 290, 443.3, 30.7], boxColor: "#000", textAt: [424, 313.5]},
  {values: ooa2Spectrum.concat(ooa2Tail), label: "Oxygenated Organic Aerosol, Type 2 (OOA-2)",
   y0: 466.7, yTop: 380, yMax: 0.1204, ticks: [0, 0.05, 0.1], axisY: 469.3,
   box: [424.3, 412.7, 443, 31.6], boxColor: "#555", textAt: [427.3, 437]}
];

specPanels.forEach(p => {
  const y = d3.scaleLinear().domain([0, p.yMax]).range([p.y0, p.yTop]);
  const g = svg.append("g");
  const bars = p.values.map((v, i) => ({mz: mzStart + i, v})).filter(d => d.v > 0);
  g.append("g")
      .attr("stroke", "#262626")
      .attr("stroke-width", 1)
    .selectAll("line")
    .data(bars)
    .join("line")
      .attr("x1", d => Math.round(mzX(d.mz)) + 0.5)
      .attr("x2", d => Math.round(mzX(d.mz)) + 0.5)
      .attr("y1", p.y0)
      .attr("y2", d => y(d.v));

  g.append("g").attr("transform", `translate(${mzX(12)},0)`)
    .call(d3.axisLeft(y).tickValues(p.ticks).tickSize(11).tickSizeOuter(0).tickPadding(7)
      .tickFormat(d3.format(".2f")))
    .call(a => styleAxis(a, 18));

  g.append("g").attr("transform", `translate(0,${p.axisY})`)
    .call(d3.axisBottom(mzX).tickValues(mzMajorTicks).tickSize(12).tickSizeOuter(0).tickPadding(10))
    .call(a => styleAxis(a, 18));
  g.append("g").attr("transform", `translate(0,${p.axisY})`)
    .call(d3.axisBottom(mzX).tickValues(mzMinorTicks).tickSize(7).tickFormat(""))
    .call(a => a.select(".domain").remove())
    .call(a => styleAxis(a, 18));

  g.append("rect")
      .attr("x", p.box[0]).attr("y", p.box[1])
      .attr("width", p.box[2]).attr("height", p.box[3])
      .attr("fill", "none").attr("stroke", p.boxColor).attr("stroke-width", 1.3);
  g.append("text")
      .attr("x", p.textAt[0]).attr("y", p.textAt[1])
      .attr("font-size", 22)
      .text(p.label);
});

svg.append("text")
    .attr("transform", "translate(35,200) rotate(-90)")
    .attr("text-anchor", "middle").attr("font-size", 20)
    .text("Relative Intensity");
svg.append("text")
    .attr("x", 509).attr("y", 521)
    .attr("text-anchor", "middle").attr("font-size", 20)
    .text("m / z");

// time series
const mayDay = d => new Date(Date.UTC(2007, 4, 1) + (d - 1) * 864e5);
const timeX = d3.scaleUtc().domain([mayDay(11.76), mayDay(46.52)]).range([78, 737]);

const timePanels = [
  {top: 551, bottom: 672.3, baseColor: "#000", baseWidth: 1,
   left: {domain: [0, 14.5], range: [672.3, 551.7], major: [0, 4, 8, 12], minor: [2, 6, 10, 14]},
   r1: {x: 737.3, domain: [0, 50], range: [672.7, 552.7], major: [0, 10, 20, 30, 40, 50], minor: [], fmt: "d", pad: 7},
   r2: {x: 853.3, domain: [0, 1.3], range: [671, 553.7], major: [0, 0.4, 0.8, 1.2], minor: [0.2, 0.6, 1.0], fmt: ".1f", pad: 13},
   series: [{data: noxPpbv, axis: "r1", color: BLUE}, {data: benzenePpbv, axis: "r2", color: BLACK}, {data: hoaConc, axis: "left", color: RED}]},
  {top: 683, bottom: 799.7, baseColor: "#808080", baseWidth: 2,
   left: {domain: [0, 7.1], range: [799.7, 683.8], major: [0, 2, 4, 6], minor: [1, 3, 5, 7]},
   r1: {x: 737.3, domain: [0, 4], range: [799.3, 686.5], major: [0, 1, 2, 3, 4], minor: [], fmt: "d", pad: 7},
   r2: {x: 853.3, domain: [0, 0.5], range: [799.7, 682.7], major: [0, 0.1, 0.2, 0.3, 0.4, 0.5], minor: [], fmt: ".1f", pad: 7},
   series: [{data: potassium, axis: "r1", color: BLUE}, {data: acetonitrilePpbv, axis: "r2", color: BLACK}, {data: bboaConc, axis: "left", color: RED}]},
  {top: 809, bottom: 925.3, baseColor: "#000", baseWidth: 1,
   left: {domain: [0, 8.9], range: [925.3, 809.6], major: [0, 2, 4, 6, 8], minor: [1, 3, 5, 7]},
   r1: {x: 737.3, domain: [0, 16], range: [925.3, 814], major: [0, 4, 8, 12, 16], minor: [2, 6, 10, 14], fmt: "d", pad: 7},
   r2: {x: 853.3, domain: [0.4, 6.29], range: [925.3, 814], major: [2, 4, 6], minor: [1, 3, 5], fmt: "d", pad: 8},
   series: [{data: acetonePpbv, axis: "r2", color: BLUE}, {data: so4Conc, axis: "r1", color: BLACK}, {data: ooa1Conc, axis: "left", color: RED}]},
  {top: 936, bottom: 1057.7, baseColor: "#000", baseWidth: 1,
   left: {domain: [0, 12], range: [1057.7, 936], major: [0, 4, 8, 12], minor: [2, 6, 10]},
   r1: {x: 737.3, domain: [0, 5.15], range: [1057.7, 937.2], major: [0, 1, 2, 3, 4, 5], minor: [], fmt: "d", pad: 7},
   r2: {x: 853.3, domain: [0, 2.35], range: [1056, 936.6], major: [0, 0.5, 1, 1.5, 2], minor: [], fmt: ".1f", pad: 12},
   series: [{data: aceticAcidPpbv, axis: "r1", color: BLUE}, {data: macrMvkPpbv, axis: "r2", color: BLACK}, {data: ooa2Conc, axis: "left", color: RED}]}
];

timePanels.forEach((p, i) => {
  const scales = {
    left: d3.scaleLinear().domain(p.left.domain).range(p.left.range),
    r1: d3.scaleLinear().domain(p.r1.domain).range(p.r1.range),
    r2: d3.scaleLinear().domain(p.r2.domain).range(p.r2.range)
  };
  const g = svg.append("g");
  g.append("clipPath").attr("id", "clip" + i)
    .append("rect").attr("x", 78).attr("y", p.top - 2).attr("width", 659).attr("height", p.bottom - p.top + 3);

  const plot = g.append("g").attr("clip-path", `url(#clip${i})`);
  p.series.forEach(s => {
    const line = d3.line()
      .defined(d => d[1] !== null)
      .x(d => timeX(mayDay(d[0])))
      .y(d => scales[s.axis](d[1]));
    plot.append("path")
        .attr("d", line(s.data))
        .attr("fill", "none")
        .attr("stroke", s.color)
        .attr("stroke-width", 1.4)
        .attr("stroke-linejoin", "round");
  });

  g.append("line")
      .attr("x1", 78).attr("x2", 737.3)
      .attr("y1", p.bottom).attr("y2", p.bottom)
      .attr("stroke", p.baseColor).attr("stroke-width", p.baseWidth);

  g.append("g").attr("transform", "translate(78,0)")
    .call(d3.axisLeft(scales.left).tickValues(p.left.major).tickSize(11).tickSizeOuter(0).tickPadding(7).tickFormat(d3.format("d")))
    .call(a => styleAxis(a, 15));
  g.append("g").attr("transform", "translate(78,0)")
    .call(d3.axisLeft(scales.left).tickValues(p.left.minor).tickSize(6).tickSizeOuter(0).tickFormat(""))
    .call(a => a.select(".domain").remove())
    .call(a => styleAxis(a, 15));

  [p.r1, p.r2].forEach((r, k) => {
    const sc = k === 0 ? scales.r1 : scales.r2;
    const len = k === 0 ? 9 : 10;
    g.append("g").attr("transform", `translate(${r.x},0)`)
      .call(d3.axisRight(sc).tickValues(r.major).tickSize(len).tickSizeOuter(0).tickPadding(r.pad).tickFormat(d3.format(r.fmt)))
      .call(a => a.select(".domain").attr("d", `M0,${r.range[0]}V${r.range[1]}`))
      .call(a => styleAxis(a, 15));
    if (r.minor.length) {
      g.append("g").attr("transform", `translate(${r.x},0)`)
        .call(d3.axisRight(sc).tickValues(r.minor).tickSize(6).tickFormat(""))
        .call(a => a.select(".domain").remove())
        .call(a => styleAxis(a, 15));
    }
  });
});

// date axis
const parseDay = d3.utcParse("%Y-%m-%d");
const majorDates = dateMajorTicks.map(parseDay);
const minorDates = d3.utcDay.range(parseDay("2007-05-12"), parseDay("2007-06-16"))
  .filter(d => !majorDates.some(m => +m === +d));
svg.append("g").attr("transform", "translate(0,1057.7)")
  .call(d3.axisBottom(timeX).tickValues(majorDates).tickSize(10).tickSizeOuter(0).tickPadding(11)
    .tickFormat(d3.utcFormat("%-m/%-d/%Y")))
  .call(a => a.select(".domain").remove())
  .call(a => styleAxis(a, 16));
svg.append("g").attr("transform", "translate(0,1057.7)")
  .call(d3.axisBottom(timeX).tickValues(minorDates).tickSize(7).tickFormat(""))
  .call(a => a.select(".domain").remove())
  .call(a => styleAxis(a, 16));

svg.append("text")
    .attr("x", 409).attr("y", 1113)
    .attr("text-anchor", "middle").attr("font-size", 21)
    .text("Date and Time");

const pmfLabel = svg.append("text")
    .attr("transform", "translate(35,788) rotate(-90)")
    .attr("text-anchor", "middle").attr("font-size", 20);
addParts(pmfLabel, [["PMF Factor Concentration (\u00b5 g/m", 0], ["3", "sup"], [")", 0]], 20);

const rightLabels = [
  {at: [787, 612], parts: [["NO", 0], ["x", "sub"], [" (ppbv)", 0]]},
  {at: [787, 743], parts: [["K (Arb. Units)", 0]]},
  {at: [787, 866], parts: [["SO", 0], ["4", "sub"], [" (\u00b5 g/m", 0], ["3", "sup"], [")", 0]]},
  {at: [782, 999], parts: [["Acetic Acid (ppbv)", 0]]},
  {at: [836, 613], parts: [["Benzene (ppbv)", 0]]},
  {at: [836, 745], parts: [["Acetonitrile (ppbv)", 0]]},
  {at: [836, 868], parts: [["Acetone (ppbv)", 0]]},
  {at: [836, 1001], parts: [["MACR, MVK (ppbv)", 0]]}
];
rightLabels.forEach(l => {
  const t = svg.append("text")
      .attr("transform", `translate(${l.at[0]},${l.at[1]}) rotate(90)`)
      .attr("text-anchor", "middle").attr("font-size", 17);
  addParts(t, l.parts, 17);
});

// legends
const legends = [
  {box: [448, 558, 283, 30], rows: [{y: 572.5, items: [
    {color: RED, x: [456, 487], tx: 493, parts: [["HOA,", 0]]},
    {color: BLUE, x: [542, 573], tx: 580, parts: [["NO", 0], ["x", "sub"], [",", 0]]},
    {color: BLACK, x: [623, 654], tx: 662, parts: [["Benzene", 0]]}]}]},
  {box: [274.3, 678.3, 355.7, 25], rows: [{y: 691.5, items: [
    {color: RED, x: [281, 312], tx: 319, parts: [["BBOA,", 0]]},
    {color: BLUE, x: [378, 407], tx: 415, parts: [["Potassium,", 0]]},
    {color: BLACK, x: [505, 537], tx: 544, parts: [["Acetonitrile", 0]]}]}]},
  {box: [105.7, 806.7, 180, 47.6], rows: [
    {y: 821, items: [
      {color: RED, x: [111, 142], tx: 150, parts: [["OOA-1,", 0]]},
      {color: BLACK, x: [213, 245], tx: 252, parts: [["SO", 0], ["4", "sub"]]}]},
    {y: 843.5, items: [
      {color: BLUE, x: [111, 142], tx: 150, parts: [["Acetone", 0]]}]}]},
  {box: [76, 937.3, 230.7, 43.4], rows: [
    {y: 950, items: [
      {color: RED, x: [82, 112], tx: 119, parts: [["OOA-2,", 0]]},
      {color: BLUE, x: [183, 213], tx: 222, parts: [["Acetic Acid", 0]]}]},
    {y: 969, items: [
      {color: BLACK, x: [82, 112], tx: 119, parts: [["MACR+MVK", 0]]}]}]}
];
legends.forEach(lg => {
  const g = svg.append("g");
  g.append("rect")
      .attr("x", lg.box[0]).attr("y", lg.box[1])
      .attr("width", lg.box[2]).attr("height", lg.box[3])
      .attr("fill", "#fff").attr("stroke", "#000").attr("stroke-width", 1.2);
  lg.rows.forEach(row => {
    row.items.forEach(it => {
      g.append("line")
          .attr("x1", it.x[0]).attr("x2", it.x[1])
          .attr("y1", row.y).attr("y2", row.y)
          .attr("stroke", it.color).attr("stroke-width", 1.3);
      const t = g.append("text")
          .attr("x", it.tx).attr("y", row.y + 5.5)
          .attr("font-size", 16);
      addParts(t, it.parts, 16);
    });
  });
});
</script>
</body>
</html>
